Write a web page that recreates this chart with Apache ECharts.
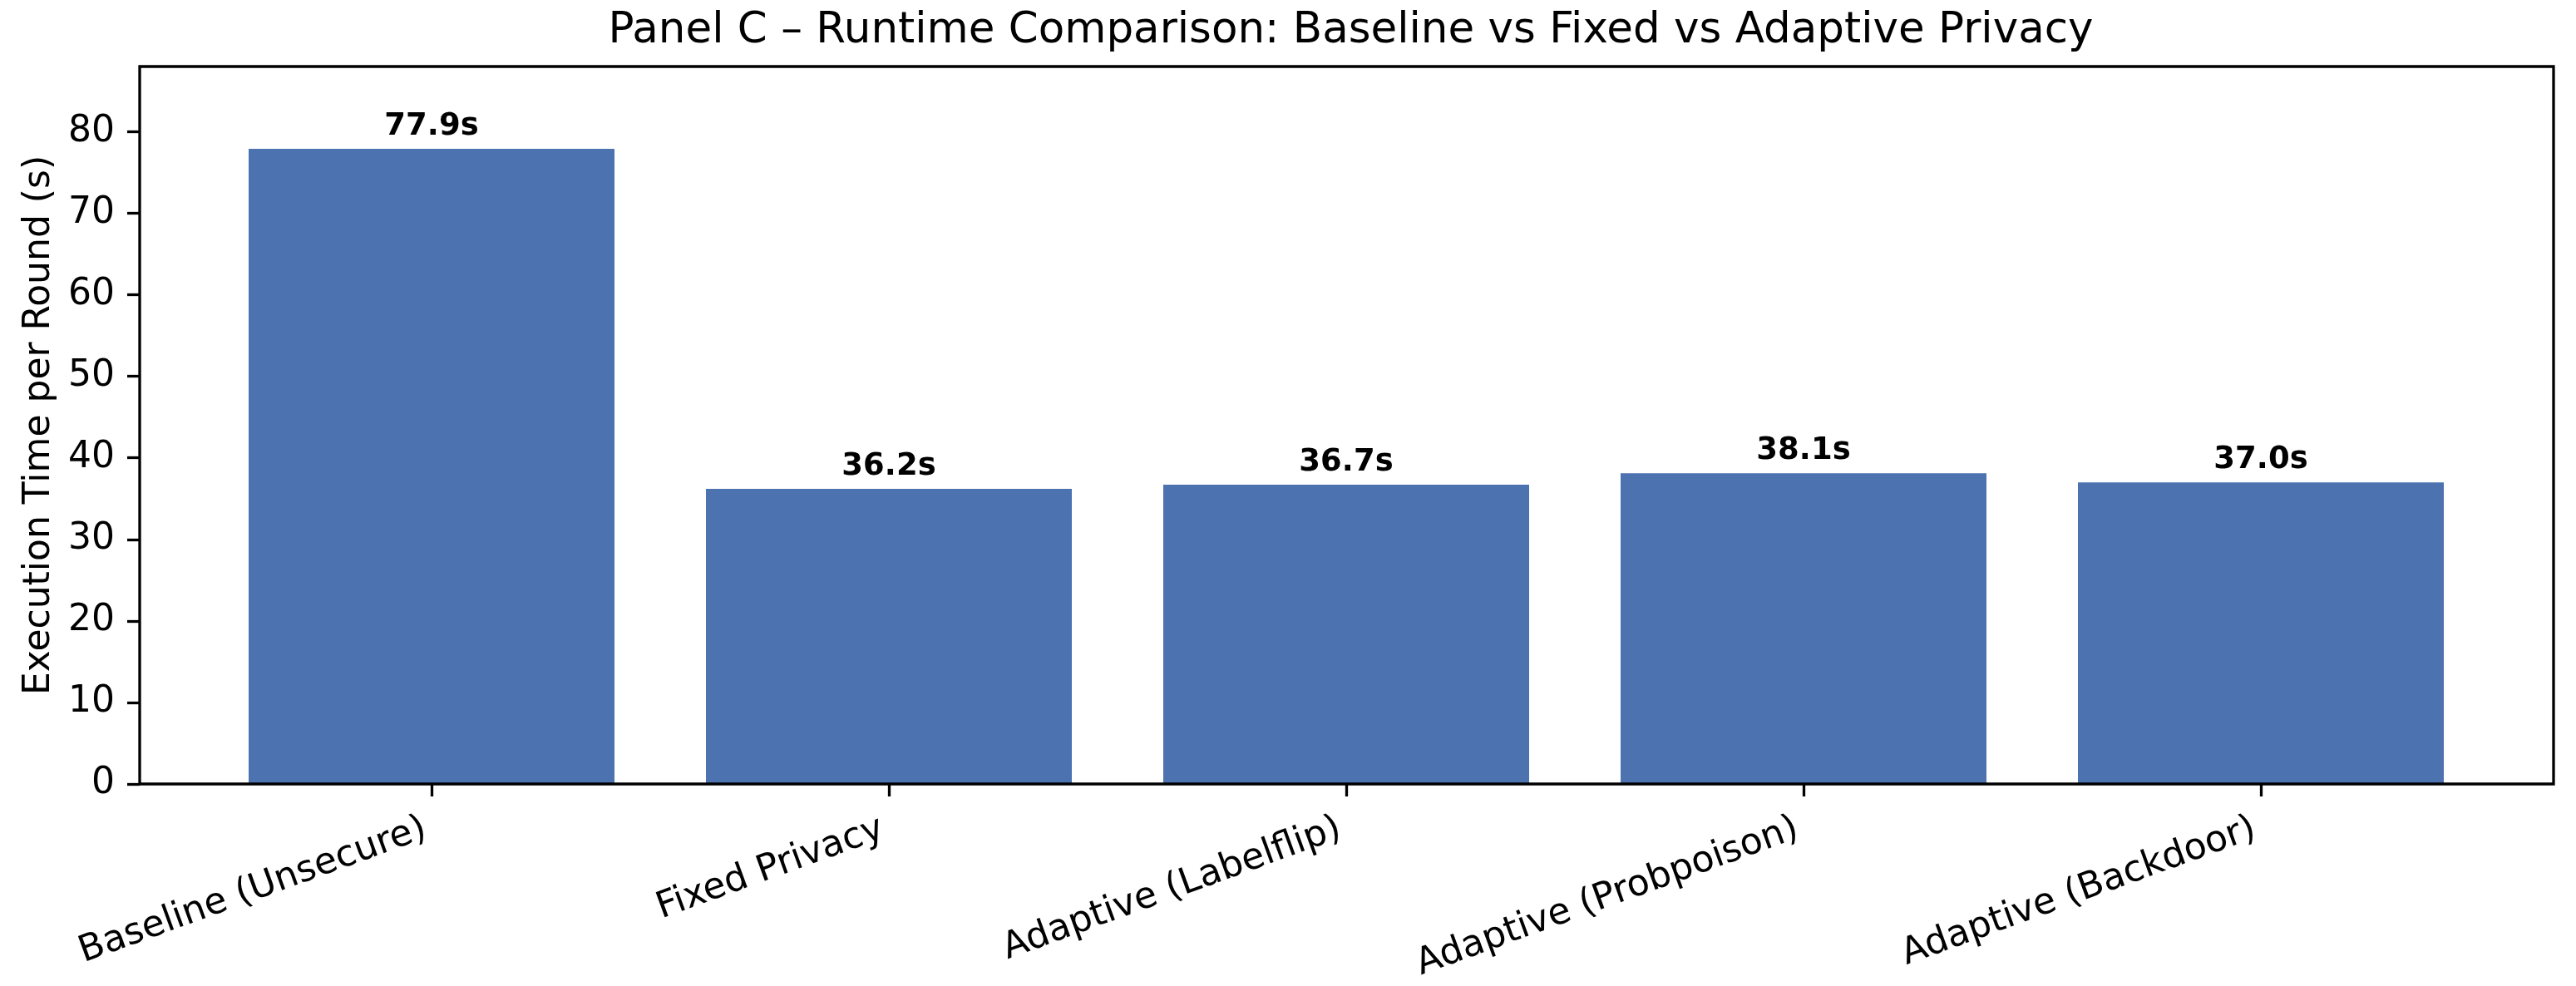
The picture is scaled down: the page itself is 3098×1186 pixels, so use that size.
<!DOCTYPE html>
<html>
<head>
<meta charset="utf-8">
<script src="https://cdn.jsdelivr.net/npm/echarts@6/dist/echarts.min.js"></script>
<style>
html,body{margin:0;padding:0;background:#fff;}
#chart{width:3098px;height:1186px;}
</style>
</head>
<body>
<div id="chart"></div>
<script>
const categories = ['Baseline (Unsecure)', 'Fixed Privacy', 'Adaptive (Labelflip)', 'Adaptive (Probpoison)', 'Adaptive (Backdoor)'];
const runtimes = [77.9, 36.2, 36.7, 38.1, 37.0];
const yTicks = [0, 10, 20, 30, 40, 50, 60, 70, 80];

const FONT = 'DejaVu Sans';
const chart = echarts.init(document.getElementById('chart'), null, {renderer: 'canvas'});
chart.setOption({
  animation: false,
  backgroundColor: '#fff',
  title: {
    text: 'Panel C \u2013 Runtime Comparison: Baseline vs Fixed vs Adaptive Privacy',
    left: 1619.5,
    top: 7,
    textAlign: 'center',
    textStyle: {fontFamily: FONT, fontSize: 51.5, fontWeight: 'normal', color: '#000'}
  },
  grid: [
    {left: 168, top: 80, width: 2903, height: 863, show: true, z: 10,
     borderColor: '#000', borderWidth: 3.3, backgroundColor: 'transparent'},
    {left: 244, top: 80, width: 2750, height: 863}
  ],
  xAxis: [
    {type: 'value', gridIndex: 0, min: 0, max: 1, show: false},
    {type: 'category', gridIndex: 1, data: categories,
     axisLine: {show: false},
     axisTick: {show: true, alignWithLabel: true, length: 15, lineStyle: {color: '#000', width: 3.3}},
     axisLabel: {rotate: 20, margin: 50, padding: [0, 8, 0, 0], fontFamily: FONT, fontSize: 44, color: '#000', interval: 0}
    }
  ],
  yAxis: [
    {type: 'value', gridIndex: 0, min: 0, max: 88,
     name: 'Execution Time per Round (s)', nameLocation: 'middle', nameGap: 98,
     nameTextStyle: {fontFamily: FONT, fontSize: 44, color: '#000'},
     axisLine: {show: false},
     splitLine: {show: false},
     axisTick: {show: true, length: 15, customValues: yTicks, lineStyle: {color: '#000', width: 3.3}},
     axisLabel: {customValues: yTicks, margin: 30, fontFamily: FONT, fontSize: 44, color: '#000'}
    },
    {type: 'value', gridIndex: 1, min: 0, max: 88, show: false, splitLine: {show: false}}
  ],
  series: [{
    type: 'bar',
    xAxisIndex: 1, yAxisIndex: 1,
    data: runtimes,
    barWidth: 440,
    itemStyle: {color: '#4C72B0'},
    label: {
      show: true, position: 'top', distance: 8,
      formatter: p => p.value.toFixed(1) + 's',
      fontFamily: FONT, fontSize: 37, fontWeight: 'bold', color: '#000'
    }
  }]
});
</script>
</body>
</html>
